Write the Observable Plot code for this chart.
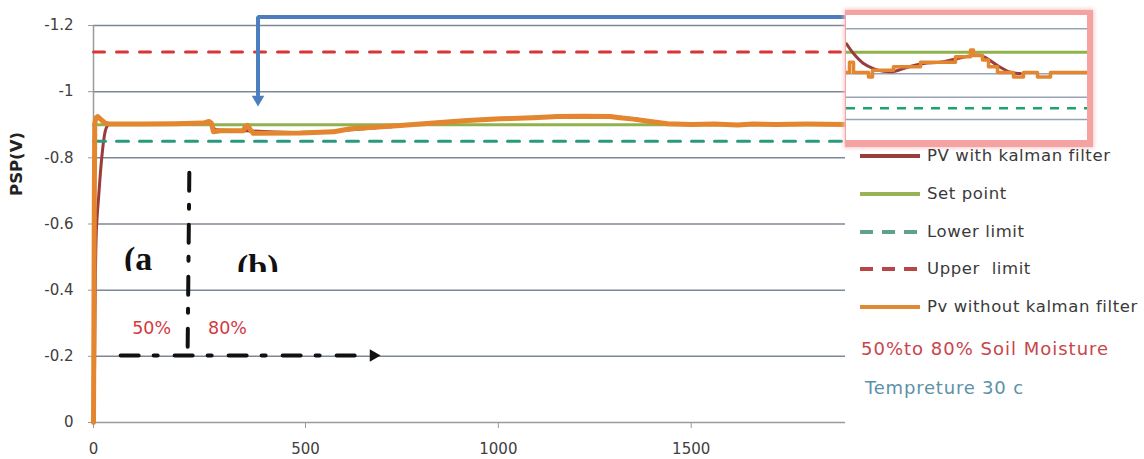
<!DOCTYPE html>
<html><head><meta charset="utf-8">
<script src="https://cdn.jsdelivr.net/npm/d3@7"></script>
<script src="https://cdn.jsdelivr.net/npm/@observablehq/plot@0.6"></script>
<style>
body{margin:0;background:#fff;}
#wrap{position:relative;width:1144px;height:459px;overflow:hidden;font-family:"DejaVu Sans";background:#fff;}
.abs{position:absolute;white-space:nowrap;}
</style></head><body><div id="wrap"></div>
<script>
// ---------- axis ticks ----------
const xTicks = [0, 500, 1000, 1500];
const xTickLabels = ["0", "500", "1000", "1500"];
const yTicks = [0, -0.2, -0.4, -0.6, -0.8, -1, -1.2];
const yTickLabels = ["0", "-0.2", "-0.4", "-0.6", "-0.8", "-1", "-1.2"];

// ---------- series ----------
const pvRawX = [0, 1, 2, 3, 5, 10, 18, 28, 40, 120, 190, 260, 272, 278, 283, 299, 354, 358, 363, 370, 377, 488, 573, 617, 746, 832, 920, 1005, 1032, 1091, 1153, 1220, 1291, 1309, 1350, 1394, 1439, 1500, 1560, 1620, 1660, 1720, 1800, 1900];
const pvRawY = [0, -0.3, -0.7, -0.9, -0.92, -0.925, -0.915, -0.905, -0.902, -0.902, -0.903, -0.905, -0.91, -0.905, -0.879, -0.882, -0.882, -0.895, -0.898, -0.885, -0.874, -0.875, -0.879, -0.888, -0.898, -0.905, -0.913, -0.918, -0.919, -0.921, -0.925, -0.926, -0.925, -0.922, -0.917, -0.91, -0.903, -0.901, -0.902, -0.899, -0.902, -0.901, -0.902, -0.901];

const pvKalX = [0, 2, 3, 4, 6, 9, 12, 16, 21, 26, 30, 36, 60, 200, 270, 290, 360, 480, 600, 750, 900, 1000, 1150, 1290, 1350, 1440, 1600, 1900];
const pvKalY = [0, -0.1, -0.25, -0.4, -0.55, -0.63, -0.68, -0.75, -0.82, -0.87, -0.89, -0.9, -0.902, -0.902, -0.905, -0.885, -0.882, -0.876, -0.883, -0.897, -0.912, -0.918, -0.924, -0.924, -0.918, -0.904, -0.901, -0.901];

const limitX = [0, 1900];
const setPoint = -0.9;
const lowerLimit = -0.85;
const upperLimit = -1.12;

// ---------- annotations (data units) ----------
const splitX = [226, 222], splitY = [-0.755, -0.215];
const timeArrowX = [64, 660], timeArrowY = [-0.2025, -0.2025];
const timeHeadX = [676], timeHeadY = [-0.2025];
const zoneText = ["50%", "80%"], zoneX = [137, 316], zoneY = [-0.284, -0.284];
const blueX = [1903, 388, 388], blueY = [-1.226, -1.226, -0.99];
const blueHeadX = [388], blueHeadY = [-0.977];

// ---------- inset (zoomed view) ----------
const insetGrid = [-0.9209, -0.8807, -0.8598, -0.8399];
const insetRawX = [0, 3, 7, 22, 26, 47, 74, 109, 124, 127, 136, 142, 151, 167, 177, 191, 204, 241];
const insetRawY = [-0.882, -0.891, -0.882, -0.878, -0.884, -0.887, -0.891, -0.896, -0.902, -0.897, -0.893, -0.887, -0.882, -0.878, -0.882, -0.878, -0.882, -0.882];
const insetKalX = [0, 7, 17, 27, 37, 47, 61, 77, 94, 107, 121, 134, 141, 151, 164, 174];
const insetKalY = [-0.9075, -0.8988, -0.8899, -0.8854, -0.883, -0.8828, -0.8866, -0.8899, -0.8911, -0.8935, -0.8964, -0.8971, -0.8941, -0.8881, -0.8821, -0.881];

// ---------- legend ----------
const legendLabels = ["PV with kalman filter", "Set point", "Lower limit", "Upper  limit", "Pv without kalman filter"];
const legendColors = ["#9c3d3d", "#98b356", "#5fa08f", "#b84646", "#e08a34"];
const legendDash = [null, null, "13,9", "13,9", null];
const noteLabels = ["50%to 80% Soil Moisture", "Tempreture 30 c"];
const noteColors = ["#c8454b", "#5b91a8"];

const C = {
  orange: "#e3862f", brown: "#9c3b3b", green: "#8fb24c",
  teal: "#2a9a7c", red: "#d83535", grid: "#7d8797", axis: "#9a9a9a", blue: "#4a7ebf"
};

const idx = a => d3.range(a.length);
const yFmt = new Map(yTicks.map((t, i) => [t, yTickLabels[i]]));
const xFmt = new Map(xTicks.map((t, i) => [t, xTickLabels[i]]));

const wrap = document.getElementById("wrap");

const main = Plot.plot({
  width: 1144, height: 459,
  marginLeft: 93, marginRight: 299, marginTop: 25, marginBottom: 37,
  style: {fontFamily: "DejaVu Sans", fontSize: "15px", color: "#404040", background: "transparent", overflow: "visible"},
  x: {type: "linear", domain: [0, 500, 1900], range: [93, 305, 845]},
  y: {domain: [0, -1.2]},
  marks: [
    Plot.gridY(yTicks.filter(d => d !== 0), {stroke: C.grid, strokeOpacity: 1, strokeWidth: 1.5}),
    Plot.ruleY([0], {stroke: C.axis, strokeWidth: 1.5}),
    Plot.ruleX([0], {stroke: C.axis, strokeWidth: 1.5}),
    Plot.axisY(yTicks, {tickSize: 5, tickPadding: 15, stroke: C.axis, fill: "#404040", tickFormat: d => yFmt.get(d), label: null}),
    Plot.axisX(xTicks, {tickSize: 6, tickPadding: 15, stroke: C.axis, fill: "#404040", tickFormat: d => xFmt.get(d), label: null}),
    Plot.line(idx(pvKalX), {x: pvKalX, y: pvKalY, stroke: C.brown, strokeWidth: 3, curve: "monotone-x"}),
    Plot.line(idx(limitX), {x: limitX, y: limitX.map(() => setPoint), stroke: C.green, strokeWidth: 3}),
    Plot.line(idx(limitX), {x: limitX, y: limitX.map(() => lowerLimit), stroke: C.teal, strokeWidth: 3, strokeDasharray: "12,11"}),
    Plot.line(idx(limitX), {x: limitX, y: limitX.map(() => upperLimit), stroke: C.red, strokeWidth: 3, strokeDasharray: "11,12"}),
    Plot.line(idx(pvRawX), {x: pvRawX, y: pvRawY, stroke: C.orange, strokeWidth: 5, strokeLinejoin: "round"}),
    // annotations
    Plot.line(idx(splitX), {x: splitX, y: splitY, stroke: "#111", strokeWidth: 4, strokeDasharray: "18,14,4,16"}),
    Plot.line(idx(timeArrowX), {x: timeArrowX, y: timeArrowY, stroke: "#111", strokeWidth: 4, strokeDasharray: "18,15,4,17"}),
    Plot.dot(idx(timeHeadX), {x: timeHeadX, y: timeHeadY, symbol: "triangle2", r: 6, fill: "#111", rotate: 90}),
    Plot.text(zoneText, {x: zoneX, y: zoneY, text: d => d, fill: "#d4393f", fontSize: 17.5}),
    Plot.line(idx(blueX), {x: blueX, y: blueY, stroke: C.blue, strokeWidth: 4, strokeLinejoin: "miter"}),
    Plot.dot(idx(blueHeadX), {x: blueHeadX, y: blueHeadY, symbol: "triangle2", r: 6, fill: C.blue, rotate: 180})
  ]
});
main.style.position = "absolute"; main.style.left = "0px"; main.style.top = "0px";
wrap.appendChild(main);

// y label
const yl = document.createElement("div");
yl.className = "abs";
yl.textContent = "PSP(V)";
Object.assign(yl.style, {left: "16px", top: "164px", transform: "translate(-50%,-50%) rotate(-90deg)", font: "bold 16.5px 'DejaVu Sans'", color: "#222"});
wrap.appendChild(yl);

// (a / (b) clipped labels
function clipped(txt, left, top, h) {
  const o = document.createElement("div");
  o.className = "abs";
  Object.assign(o.style, {left: left + "px", top: top + "px", height: h + "px", overflow: "hidden"});
  const i = document.createElement("div");
  i.textContent = txt;
  Object.assign(i.style, {font: "bold 34px 'Liberation Serif'", lineHeight: "34px", color: "#111"});
  o.appendChild(i);
  wrap.appendChild(o);
}
clipped("(a", 124, 242, 29);
clipped("(b)", 237, 250, 22);

// inset box
const box = document.createElement("div");
box.className = "abs";
Object.assign(box.style, {left: "845px", top: "10px", width: "248px", height: "137px", boxSizing: "border-box",
  borderStyle: "solid", borderColor: "#f4a2a2", borderWidth: "5px 6px 7px 1px", background: "#fff",
  boxShadow: "0 0 4px 1px #f9c4c4"});
wrap.appendChild(box);

const inset = Plot.plot({
  width: 241, height: 125, margin: 0,
  style: {background: "white"},
  x: {domain: [0, 241], axis: null},
  y: {domain: [-0.8212, -0.9328], axis: null},
  marks: [
    Plot.ruleY(insetGrid, {stroke: "#9aa3b5", strokeWidth: 1.5}),
    Plot.ruleY([setPoint], {stroke: C.green, strokeWidth: 3}),
    Plot.ruleY([lowerLimit], {stroke: "#1ea36a", strokeWidth: 2.5, strokeDasharray: "9,8"}),
    Plot.line(idx(insetKalX), {x: insetKalX, y: insetKalY, stroke: "#9a3d40", strokeWidth: 3, curve: "catmull-rom"}),
    Plot.line(idx(insetRawX), {x: insetRawX, y: insetRawY, stroke: C.orange, strokeWidth: 3.5, curve: "step-after"})
  ]
});
inset.style.position = "absolute"; inset.style.left = "846px"; inset.style.top = "15px";
wrap.appendChild(inset);

// legend
legendLabels.forEach((lab, i) => {
  const cy = 156 + i * 37.8;
  const s = d3.create("svg").attr("width", 62).attr("height", 10)
    .style("position", "absolute").style("left", "859px").style("top", (cy - 5) + "px");
  s.append("line").attr("x1", 1).attr("x2", 61).attr("y1", 5).attr("y2", 5)
    .attr("stroke", legendColors[i]).attr("stroke-width", 4)
    .attr("stroke-dasharray", legendDash[i]);
  wrap.appendChild(s.node());
  const t = document.createElement("div");
  t.className = "abs";
  t.textContent = lab;
  Object.assign(t.style, {left: "927px", top: (cy - 11) + "px", lineHeight: "22px", fontSize: "16.5px", letterSpacing: "0.6px", color: "#3a3a3a", whiteSpace: "pre"});
  wrap.appendChild(t);
});
noteLabels.forEach((lab, i) => {
  const cy = 349 + i * 39;
  const t = document.createElement("div");
  t.className = "abs";
  t.textContent = lab;
  Object.assign(t.style, {left: (861 + i * 4) + "px", top: (cy - 12) + "px", lineHeight: "24px", fontSize: "18px", letterSpacing: (i === 0 ? 1 : 0.8) + "px", color: noteColors[i]});
  wrap.appendChild(t);
});
</script></body></html>
